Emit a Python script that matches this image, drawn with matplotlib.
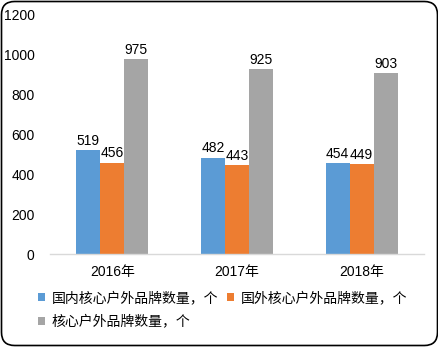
import matplotlib
matplotlib.use("Agg")
import matplotlib.pyplot as plt
import numpy as np
from matplotlib.patches import FancyBboxPatch

categories = ["2016年", "2017年", "2018年"]
series_names = ["国内核心户外品牌数量，个", "国外核心户外品牌数量，个", "核心户外品牌数量，个"]
domestic = [519, 482, 454]
foreign = [456, 443, 449]
total = [975, 925, 903]
colors = ["#5B9BD5", "#ED7D31", "#A5A5A5"]
yticks = [0, 200, 400, 600, 800, 1000, 1200]

plt.rcParams['font.family'] = ['Liberation Sans', 'Noto Sans CJK SC', 'DejaVu Sans']

W, H = 439, 347
fig = plt.figure(figsize=(W / 100, H / 100), dpi=100)
ax = fig.add_axes([50 / W, (H - 254) / H, 374 / W, 240 / H])

x = np.arange(len(categories))
bw = 0.193
series = [domestic, foreign, total]
handles = []
for i, (vals, c) in enumerate(zip(series, colors)):
    bars = ax.bar(x + (i - 1) * bw, vals, width=bw, color=c, label=series_names[i], zorder=2)
    handles.append(bars)
    for b, v in zip(bars, vals):
        ax.text(b.get_x() + b.get_width() / 2, v + 12, str(v), ha='center', va='bottom',
                fontsize=10, color='black')

ax.set_xlim(-0.5, 2.5)
ax.set_ylim(0, 1200)
ax.set_yticks(yticks)
ax.set_xticks(x)
ax.set_xticklabels(categories, fontsize=10)
ax.tick_params(axis='y', length=0, labelsize=10, pad=11)
ax.tick_params(axis='x', length=0, labelsize=10, pad=8)
for s in ['top', 'right', 'left']:
    ax.spines[s].set_visible(False)
ax.spines['bottom'].set_color('#D9D9D9')
ax.spines['bottom'].set_linewidth(1)

leg = fig.legend([handles[0], handles[2], handles[1]],
                 [series_names[0], series_names[2], series_names[1]],
                 ncol=2, loc='upper left', bbox_to_anchor=(38 / W, 1 - 291 / H),
                 frameon=False, fontsize=10, handlelength=0.5, handleheight=0.5,
                 handletextpad=0.5, columnspacing=0.6, labelspacing=0.7,
                 borderaxespad=0, borderpad=0)

border = FancyBboxPatch((1.5 / W, 1.5 / H), (W - 3) / W, (H - 3) / H,
                        boxstyle="round,pad=0,rounding_size=0.03",
                        transform=fig.transFigure, fill=False, edgecolor='black',
                        linewidth=1.2, mutation_aspect=W / H)
fig.patches.append(border)

fig.savefig("out.png", dpi=100)
